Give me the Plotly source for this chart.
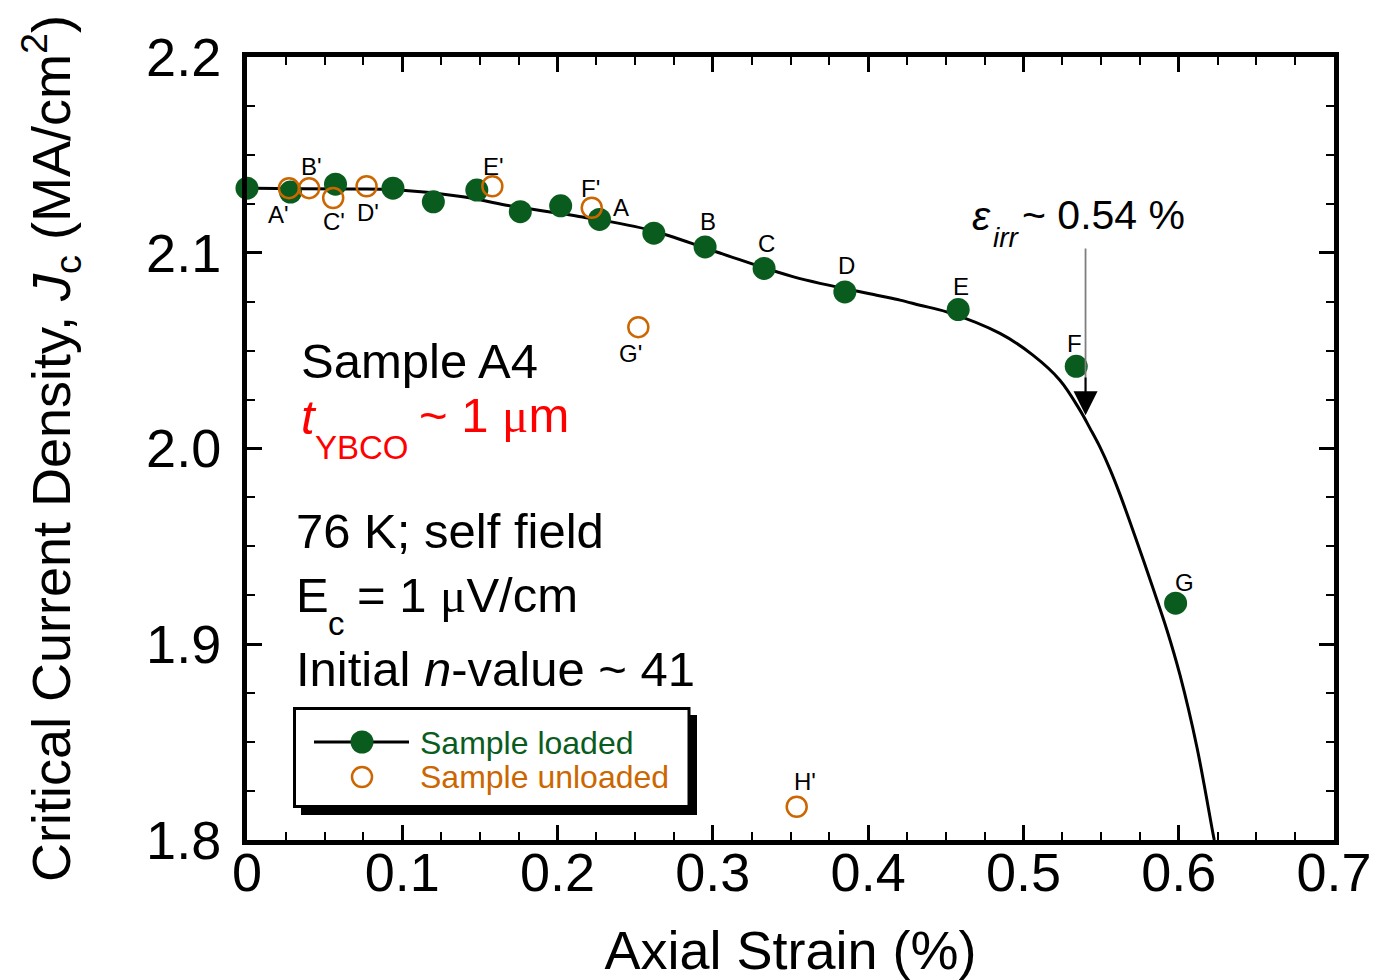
import plotly.graph_objects as go

# ---------------- data ----------------
loaded_x = [0.0, 0.028, 0.057, 0.094, 0.120, 0.148, 0.176, 0.202, 0.227, 0.262,
            0.295, 0.333, 0.385, 0.458, 0.534, 0.598]
loaded_y = [2.133, 2.131, 2.135, 2.133, 2.126, 2.132, 2.121, 2.124, 2.117, 2.110,
            2.103, 2.092, 2.080, 2.071, 2.042, 1.921]
loaded_labels = ["", "", "", "", "", "", "", "", "A", "", "B", "C", "D", "E", "F", "G"]

unloaded_x = [0.027, 0.040, 0.0555, 0.077, 0.158, 0.222, 0.252, 0.354]
unloaded_y = [2.133, 2.133, 2.128, 2.134, 2.134, 2.123, 2.062, 1.817]
unloaded_labels = ["A'", "B'", "C'", "D'", "E'", "F'", "G'", "H'"]

fit_x = [0.0, 0.034, 0.066, 0.094, 0.139, 0.167, 0.216, 0.260, 0.302, 0.352,
         0.4055, 0.4205, 0.4334, 0.4505, 0.4849, 0.5061, 0.5235, 0.5364, 0.5428, 0.5493,
         0.5557, 0.5621, 0.5718, 0.5834, 0.5924, 0.6008, 0.6117, 0.6220, 0.6229]
fit_y = [2.1330, 2.1327, 2.1326, 2.1323, 2.1286, 2.1243, 2.1183, 2.1115, 2.1005, 2.0877,
         2.0783, 2.0758, 2.0732, 2.0698, 2.0588, 2.0477, 2.0349, 2.0196, 2.0104, 2.0007,
         1.9895, 1.9767, 1.9553, 1.9287, 1.9073, 1.8843, 1.8475, 1.8036, 1.8000]

x_tickvals = [0, 0.1, 0.2, 0.3, 0.4, 0.5, 0.6, 0.7]
x_ticktext = ["0", "0.1", "0.2", "0.3", "0.4", "0.5", "0.6", "0.7"]
y_tickvals = [1.8, 1.9, 2.0, 2.1, 2.2]
y_ticktext = ["1.8", "1.9", "2.0", "2.1", "2.2"]

eps_irr = 0.54
eps_arrow_top = 2.103
eps_arrow_tip = 2.017

# ---------------- styles ----------------
FONT = "Liberation Sans, Arial, sans-serif"
MU = "<span style=\"font-family:'Liberation Serif'\">μ</span>"
GREEN = "#0a5c1e"
ORANGE = "#cc6600"
RED = "#ff0000"

# label offsets in pixels (dx, dy) relative to their points
loaded_off = {"A": (21, 12), "B": (3, 25), "C": (2, 25), "D": (2, 26), "E": (3, 23),
              "F": (-2, 23), "G": (9, 21)}
unloaded_off = {"A'": (-10, -26), "B'": (2, 22), "C'": (1, -24), "D'": (1, -26),
                "E'": (1, 20), "F'": (-1, 19), "G'": (-8, -26), "H'": (8, 25)}

fig = go.Figure()

fig.add_trace(go.Scatter(x=fit_x, y=fit_y, mode="lines",
                         line=dict(color="black", width=3, shape="spline", smoothing=1.0),
                         showlegend=False, hoverinfo="skip"))
fig.add_trace(go.Scatter(x=loaded_x, y=loaded_y, mode="markers", name="Sample loaded",
                         marker=dict(color=GREEN, size=23, line=dict(width=0)),
                         cliponaxis=False, showlegend=False))
fig.add_trace(go.Scatter(x=unloaded_x, y=unloaded_y, mode="markers", name="Sample unloaded",
                         marker=dict(symbol="circle-open", color=ORANGE, size=20,
                                     line=dict(width=2.5, color=ORANGE)),
                         cliponaxis=False, showlegend=False))

ann = []
for xv, yv, lab in zip(loaded_x, loaded_y, loaded_labels):
    if lab:
        dx, dy = loaded_off[lab]
        ann.append(dict(x=xv, y=yv, xref="x", yref="y", text=lab, showarrow=False,
                        xshift=dx, yshift=dy, font=dict(size=24, color="black", family=FONT)))
for xv, yv, lab in zip(unloaded_x, unloaded_y, unloaded_labels):
    dx, dy = unloaded_off[lab]
    ann.append(dict(x=xv, y=yv, xref="x", yref="y", text=lab, showarrow=False,
                    xshift=dx, yshift=dy, font=dict(size=24, color="black", family=FONT)))

# plot area in page pixels (page body margin is removed below)
L, R, T, B = 247, 1334, 57, 840
W, H = 1375, 980
def px(xp):
    return (xp - L) / (R - L)
def py(yp):
    return (B - yp) / (B - T)

def txt(x, y, s, size, color="black"):
    ann.append(dict(x=px(x), y=py(y), xref="paper", yref="paper", xanchor="left",
                    yanchor="middle", text=s, showarrow=False,
                    font=dict(size=size, color=color, family=FONT)))

# irreversible strain arrow
ann.append(dict(x=eps_irr, y=eps_arrow_tip + 0.012, ax=eps_irr, ay=eps_arrow_top,
                xref="x", yref="y", axref="x", ayref="y", text="", showarrow=True,
                arrowhead=0, arrowwidth=1.8, arrowcolor="#7f7f7f"))
ann.append(dict(x=eps_irr, y=eps_arrow_tip, ax=eps_irr, ay=eps_arrow_tip + 0.02,
                xref="x", yref="y", axref="x", ayref="y", text="", showarrow=True,
                arrowhead=2, arrowsize=2.4, arrowwidth=2, arrowcolor="black"))
txt(970, 216, "<i>ε</i>", 41)
txt(991, 237, "<i>irr</i>", 28)
txt(1020, 215, "~ 0.54 %", 41)

# sample text block
txt(299, 361, "Sample A4", 49)
txt(299, 417, "<i>t</i>", 49, RED)
txt(313, 447, "YBCO", 33, RED)
txt(417, 416, "~ 1 " + MU + "m", 49, RED)
txt(294, 531, "76 K; self field", 49)
txt(294, 595, "E", 49)
txt(326, 623, "c", 33)
txt(355, 595, "= 1 " + MU + "V/cm", 49)
txt(294, 669, "Initial <i>n</i>-value ~ 41", 49)

# legend (drawn box with shadow)
txt(418, 743, "Sample loaded", 32, GREEN)
txt(418, 777, "Sample unloaded", 32, ORANGE)

shapes = [
    dict(type="rect", xref="paper", yref="paper", x0=px(301), x1=px(697), y0=py(815), y1=py(715),
         fillcolor="black", line=dict(width=0), layer="above"),
    dict(type="rect", xref="paper", yref="paper", x0=px(294.5), x1=px(689), y0=py(806.5), y1=py(708.5),
         fillcolor="white", line=dict(color="black", width=3), layer="above"),
    dict(type="line", xref="paper", yref="paper", x0=px(314), x1=px(409), y0=py(742), y1=py(742),
         line=dict(color="black", width=3), layer="above"),
    dict(type="circle", xref="paper", yref="paper", xsizemode="pixel", ysizemode="pixel",
         xanchor=px(362), yanchor=py(742), x0=-11.5, x1=11.5, y0=-11.5, y1=11.5,
         fillcolor=GREEN, line=dict(width=0), layer="above"),
    dict(type="circle", xref="paper", yref="paper", xsizemode="pixel", ysizemode="pixel",
         xanchor=px(362), yanchor=py(777), x0=-10, x1=10, y0=-10, y1=10,
         fillcolor="rgba(0,0,0,0)", line=dict(width=2.5, color=ORANGE), layer="above"),
]

axis_common = dict(showline=True, linewidth=5, linecolor="black", mirror="allticks",
                   ticks="inside", ticklen=15, tickwidth=2.5, tickcolor="black",
                   showgrid=False, zeroline=False, automargin=False,
                   ticklabeloverflow="allow",
                   tickfont=dict(size=54, color="black", family=FONT),
                   minor=dict(ticks="inside", ticklen=8, tickwidth=2, tickcolor="black",
                              dtick=0.025, showgrid=False))

fig.update_layout(
    width=W, height=H,
    margin=dict(l=L, r=W - R, t=T, b=H - B),
    paper_bgcolor="white", plot_bgcolor="white",
    font=dict(family=FONT, color="black"),
    showlegend=False,
    xaxis=dict(range=[0, 0.7], tickmode="array", tickvals=x_tickvals, ticktext=x_ticktext,
               ticklabelstandoff=-19,
               title=dict(text="Axial Strain (%)", font=dict(size=54, family=FONT), standoff=33),
               **axis_common),
    yaxis=dict(range=[1.8, 2.2], tickmode="array", tickvals=y_tickvals, ticktext=y_ticktext,
               ticklabelstandoff=10,
               title=dict(text="Critical Current Density, <i>J</i><sub>c</sub> (MA/cm<sup>2</sup>)",
                          font=dict(size=54, family=FONT), standoff=60),
               **axis_common),
    annotations=ann,
    shapes=shapes,
)

fig.write_html("out.html", config={"displayModeBar": False},
               post_script="document.body.style.margin='0';document.body.style.overflow='hidden';")
